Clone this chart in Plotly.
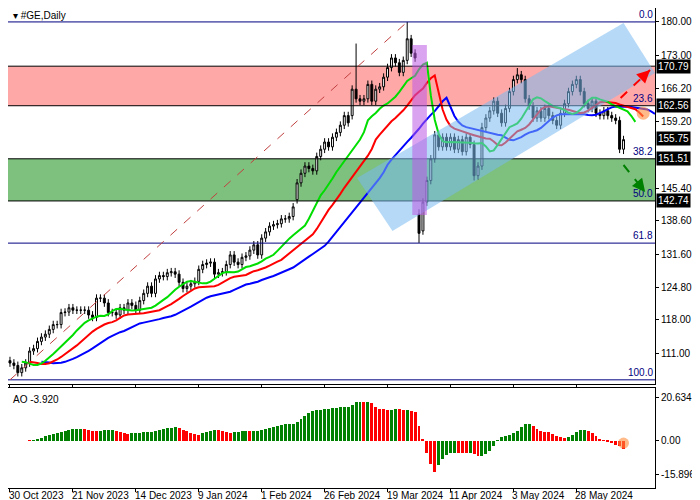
import numpy as np
import pandas as pd
import plotly.graph_objects as go
from plotly.subplots import make_subplots

# daily closes, GE, 30 Oct 2023 .. mid Jun 2024
close = [
    109, 108.5, 107, 108, 109, 111.5, 112, 113.5, 114.4, 115,
    116, 117, 117, 119.5, 119.6, 120.5, 120, 120, 120, 120,
    119, 118.5, 122.5, 122.5, 121.5, 119.5, 119.5, 119, 120.5, 120,
    121.5, 121, 120, 122, 123.5, 125, 123.5, 126.5, 127.2, 127,
    127.8, 128, 127.5, 125.8, 124.5, 125, 125.5, 126, 128.5, 129.5,
    129.8, 130, 127.5, 127.8, 128, 129.5, 131.5, 130, 129.5, 131,
    131.3, 132.5, 133.6, 131.5, 135, 136.3, 137.5, 137.8, 138, 139,
    139, 139.5, 141.5, 146.5, 148.5, 150, 149.5, 149, 152, 153.5,
    155, 154, 156, 157, 158.5, 160.5, 159, 166, 164, 163.5,
    164, 167, 163.5, 166, 166.5, 168.5, 170.5, 172.5, 171.5, 169.5,
    172, 176.5, 173.5, 172.5, 136, 142.5, 147, 151.5, 156.5, 154,
    156, 154, 156, 153.5, 155.5, 153, 156, 154.5, 148, 150,
    158, 160, 161.5, 163.5, 161, 159, 162, 165.5, 168, 169,
    168, 164, 162.5, 160, 161.5, 160, 162, 160.5, 159.5, 158.5,
    161, 163, 165.5, 167, 168, 165.5, 163, 162, 163.5, 161,
    160.5, 161.5, 160.5, 160, 159.5, 153.5, 155.5,
]
gap_open = {73: 143.0, 104: 140.0, 105: 136.5, 87: 160.5}
wick_high = {88: 175.5, 101: 180.0, 104: 141.0, 129: 170.4, 120: 159.0}
wick_low = {104: 134.0, 118: 147.0, 156: 152.5}

date_ticks = ["30 Oct 2023", "21 Nov 2023", "14 Dec 2023", "9 Jan 2024", "1 Feb 2024",
              "26 Feb 2024", "19 Mar 2024", "11 Apr 2024", "3 May 2024", "28 May 2024"]
price_ticks = [180.00, 173.00, 166.20, 159.20, 145.40, 138.60, 131.60, 124.80, 118.00, 111.00, 104.20]
boxed_levels = [170.79, 162.56, 155.75, 151.51, 142.74]
fib_levels = [0.0, 23.6, 38.2, 50.0, 61.8, 100.0]
fib_high, fib_low = 180.0, 105.5

n = len(close)
idx = np.arange(n)
c = pd.Series(close, dtype=float)
o = c.shift(1).fillna(c.iloc[0] + 0.5)
for k, v in gap_open.items():
    o.iloc[k] = v
h = np.maximum(o, c) + 0.8
l = np.minimum(o, c) - 0.8
for k, v in wick_high.items():
    h.iloc[k] = v
for k, v in wick_low.items():
    l.iloc[k] = v

med = (h + l) / 2
ao = med.rolling(5, min_periods=1).mean() - med.rolling(34, min_periods=1).mean()
ao_col = ["#ff0000" if i > 0 and ao.iloc[i] < ao.iloc[i - 1] else "#008000" for i in range(n)]

X0, X1 = -0.5, 164

fig = make_subplots(rows=2, cols=1, shared_xaxes=True, vertical_spacing=0.008,
                    row_heights=[0.79, 0.21])

fig.add_trace(go.Candlestick(x=idx, open=o, high=h, low=l, close=c,
                             increasing=dict(line=dict(color="black", width=1), fillcolor="white"),
                             decreasing=dict(line=dict(color="black", width=1), fillcolor="black"),
                             whiskerwidth=0, showlegend=False), row=1, col=1)

# alligator
for period, shift, color in [(13, 8, "#0000ff"), (8, 5, "#ff0000"), (5, 3, "#00dd00")]:
    smma = med.ewm(alpha=1 / period, adjust=False).mean()
    fig.add_trace(go.Scatter(x=idx + shift, y=smma, mode="lines", line=dict(color=color, width=2),
                             showlegend=False, hoverinfo="skip"), row=1, col=1)

fig.add_trace(go.Scatter(x=[161], y=[161.0], mode="markers",
                         marker=dict(size=13, color="rgba(255,140,60,0.6)"), showlegend=False), row=1, col=1)

fig.add_trace(go.Bar(x=idx, y=ao, marker=dict(color=ao_col, line_width=0), width=0.75,
                     showlegend=False), row=2, col=1)
fig.add_trace(go.Scatter(x=[156], y=[-1.2], mode="markers",
                         marker=dict(size=11, color="rgba(255,140,60,0.6)"), showlegend=False), row=2, col=1)

# zones
fig.add_shape(type="rect", x0=X0, x1=X1, y0=162.56, y1=170.79, xref="x", yref="y",
              fillcolor="rgba(255,110,110,0.6)", line_width=0, layer="below")
fig.add_shape(type="rect", x0=X0, x1=X1, y0=142.74, y1=151.51, xref="x", yref="y",
              fillcolor="rgba(40,150,40,0.6)", line_width=0, layer="below")
for lv in [170.79, 162.56, 151.51, 142.74]:
    fig.add_shape(type="line", x0=X0, x1=X1, y0=lv, y1=lv, xref="x", yref="y",
                  line=dict(color="black", width=1))


def px_to_data(px, py):
    return (px - 4) / 4, 180 - (py - 22) / 4.802


chan = [px_to_data(*p) for p in [(357, 178), (393, 231), (660, 73), (628, 23)]]
path = "M " + " L ".join(f"{x},{y}" for x, y in chan) + " Z"
fig.add_shape(type="path", path=path, fillcolor="rgba(120,185,240,0.55)", line_width=0,
              xref="x", yref="y")
fig.add_shape(type="rect", x0=102.3, x1=106, y0=139.8, y1=175.2,
              fillcolor="rgba(190,90,230,0.55)", line_width=0, xref="x", yref="y")

# fibonacci
for f in fib_levels:
    lv = fib_high - (fib_high - fib_low) * f / 100
    if f in (0.0, 61.8, 100.0):
        fig.add_shape(type="line", x0=X0, x1=X1, y0=lv, y1=lv, xref="x", yref="y",
                      line=dict(color="#000080", width=1))
    fig.add_annotation(x=X1, xref="x", y=lv, yref="y", text=f"{f:.1f}", showarrow=False,
                       xanchor="right", yanchor="bottom", font=dict(size=10, color="#000080"))
fig.add_shape(type="line", x0=0, y0=fib_low, x1=101, y1=fib_high, xref="x", yref="y",
              line=dict(color="#c04040", width=1, dash="dash"))

# arrows
for (x0, y0), (x1, y1), col in [(px_to_data(625, 98), px_to_data(655, 70), "#ff0000"),
                                (px_to_data(628, 165), px_to_data(650, 192), "#008000")]:
    fig.add_shape(type="line", x0=x0, y0=y0, x1=x1, y1=y1, xref="x", yref="y",
                  line=dict(color=col, width=2, dash="dash"))
    fig.add_annotation(x=x1, y=y1, ax=x0 + (x1 - x0) * 0.7, ay=y0 + (y1 - y0) * 0.7,
                       xref="x", yref="y", axref="x", ayref="y", text="", showarrow=True,
                       arrowhead=2, arrowsize=1.3, arrowwidth=2, arrowcolor=col)

for lv in boxed_levels:
    fig.add_annotation(x=1.0, xref="paper", y=lv, yref="y", text=f"{lv:.2f}", showarrow=False,
                       xanchor="left", xshift=1, bgcolor="black", font=dict(size=10, color="white"),
                       borderpad=1)

for i, txt in enumerate(date_ticks):
    fig.add_annotation(x=i * 16, xref="x2", y=0, yref="paper", text=txt, showarrow=False,
                       xanchor="left", yanchor="top", xshift=-3,
                       font=dict(size=10, color="black"))

fig.add_annotation(x=0.004, xref="paper", y=1.0, yref="paper", text="▾ #GE,Daily", showarrow=False,
                   xanchor="left", yanchor="top", font=dict(size=10, color="black"))
fig.add_annotation(x=0.004, xref="paper", y=0.2, yref="paper", text=f"AO {ao.iloc[-1]:.3f}",
                   showarrow=False, xanchor="left", yanchor="top", font=dict(size=10, color="black"))

axis_style = dict(showgrid=False, zeroline=False, showline=True, linecolor="black", mirror=True,
                  ticks="outside", ticklen=3, tickcolor="black", automargin=False,
                  tickfont=dict(size=10, color="black"))
fig.update_xaxes(range=[X0, X1], showticklabels=False, tickvals=list(range(0, 160, 16)), **axis_style)
fig.update_xaxes(rangeslider_visible=False)
fig.update_yaxes(side="right", **axis_style)
fig.update_yaxes(range=[104.6, 182.9], tickvals=price_ticks, ticktext=[f"{v:.2f}" for v in price_ticks],
                 row=1, col=1)
fig.update_yaxes(range=[-22.5, 24.9], tickvals=[20.634, 0, -15.896],
                 ticktext=["20.634", "0.00", "-15.896"], row=2, col=1)

fig.update_layout(width=692, height=492, margin=dict(l=0, r=45, t=0, b=12),
                  plot_bgcolor="white", paper_bgcolor="white", bargap=0,
                  font=dict(family="Liberation Sans", size=10), hovermode=False)
fig.write_html("out.html")
